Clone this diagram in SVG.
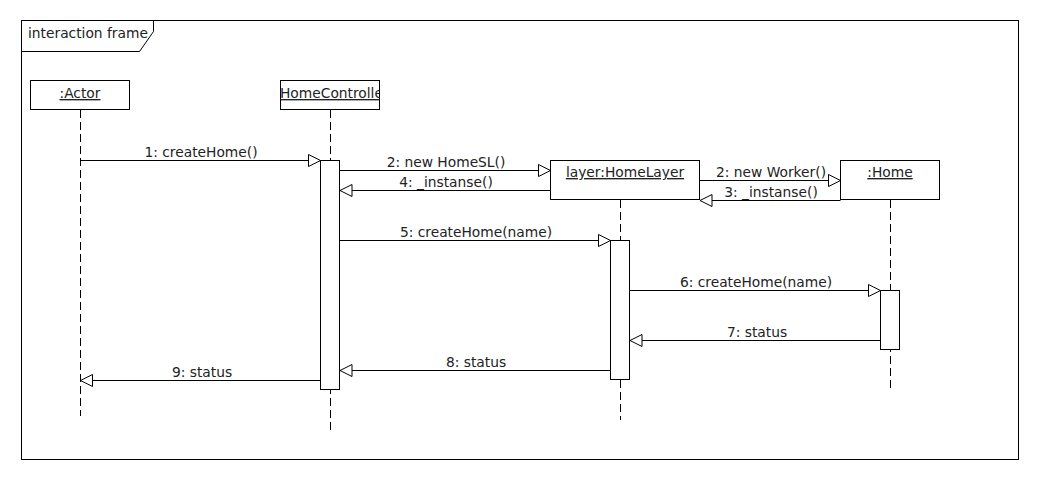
<svg xmlns="http://www.w3.org/2000/svg" width="1040" height="480" viewBox="0 0 1040 480">
<style>
.box{fill:#fff;stroke:#000;stroke-width:1}
.life{stroke:#000;stroke-width:1;stroke-dasharray:8 4;fill:none}
.act{fill:#fff;stroke:#000;stroke-width:1}
.msg{stroke:#000;stroke-width:1;fill:none;marker-end:url(#tri)}
text{font-family:"DejaVu Sans",Verdana,sans-serif;font-size:13.8px;fill:#222}
.u{text-decoration:underline}
.c{text-anchor:middle}
</style>
<defs>
<marker id="tri" viewBox="0 0 14 14" refX="13" refY="7" markerWidth="14" markerHeight="14" markerUnits="userSpaceOnUse" orient="auto">
<path d="M1,1 L13,7 L1,13 Z" fill="#fff" stroke="#000" stroke-width="1"/>
</marker>
<clipPath id="hcclip"><rect x="280.5" y="80.5" width="99" height="29"/></clipPath>
</defs>
<rect width="1040" height="480" fill="#fff"/>
<g id="frame">
<rect x="21.5" y="20.5" width="997" height="439" fill="none" stroke="#000"/>
<path d="M21.5,51.5 H139.5 L153.5,31.5 V20.5" fill="none" stroke="#000"/>
<text x="28" y="38">interaction frame</text>
</g>
<g id="lifelines">
<line class="life" x1="80.5" y1="110" x2="80.5" y2="416"/>
<line class="life" x1="330.5" y1="110" x2="330.5" y2="430"/>
<line class="life" x1="620.5" y1="200" x2="620.5" y2="420"/>
<line class="life" x1="890.5" y1="200" x2="890.5" y2="390"/>
</g>
<g id="actor">
<rect class="box" x="30.5" y="80.5" width="99" height="29"/>
<text class="u c" x="80" y="98">:Actor</text>
</g>
<g id="homecontroller">
<rect class="box" x="280.5" y="80.5" width="99" height="29"/>
<text class="u" x="280" y="98" clip-path="url(#hcclip)">HomeController</text>
<rect class="act" x="320.5" y="160.5" width="19" height="229"/>
</g>
<g id="homelayer">
<rect class="box" x="550.5" y="160.5" width="149" height="39"/>
<text class="u c" x="625" y="177">layer:HomeLayer</text>
<rect class="act" x="610.5" y="240.5" width="19" height="139"/>
</g>
<g id="home">
<rect class="box" x="840.5" y="160.5" width="99" height="39"/>
<text class="u c" x="890" y="177">:Home</text>
<rect class="act" x="880.5" y="290.5" width="19" height="59"/>
</g>
<g id="connectors">
<line class="msg" x1="80.5" y1="160.5" x2="320.5" y2="160.5"/>
<text class="c" x="201" y="157">1: createHome()</text>
<line class="msg" x1="340" y1="170.5" x2="550.5" y2="170.5"/>
<text class="c" x="446" y="167">2: new HomeSL()</text>
<line class="msg" x1="550.5" y1="190.5" x2="340" y2="190.5"/>
<text class="c" x="446" y="187">4: _instanse()</text>
<line class="msg" x1="700" y1="180.5" x2="840.5" y2="180.5"/>
<text class="c" x="771" y="177">2: new Worker()</text>
<line class="msg" x1="840.5" y1="200.5" x2="700" y2="200.5"/>
<text class="c" x="771" y="197">3: _instanse()</text>
<line class="msg" x1="340" y1="240.5" x2="610.5" y2="240.5"/>
<text class="c" x="476" y="237">5: createHome(name)</text>
<line class="msg" x1="630" y1="290.5" x2="880.5" y2="290.5"/>
<text class="c" x="756" y="287">6: createHome(name)</text>
<line class="msg" x1="880.5" y1="340.5" x2="630" y2="340.5"/>
<text class="c" x="757" y="337">7: status</text>
<line class="msg" x1="610.5" y1="370.5" x2="340" y2="370.5"/>
<text class="c" x="476" y="367">8: status</text>
<line class="msg" x1="320.5" y1="380.5" x2="80.5" y2="380.5"/>
<text class="c" x="202" y="377">9: status</text>
</g>
</svg>
